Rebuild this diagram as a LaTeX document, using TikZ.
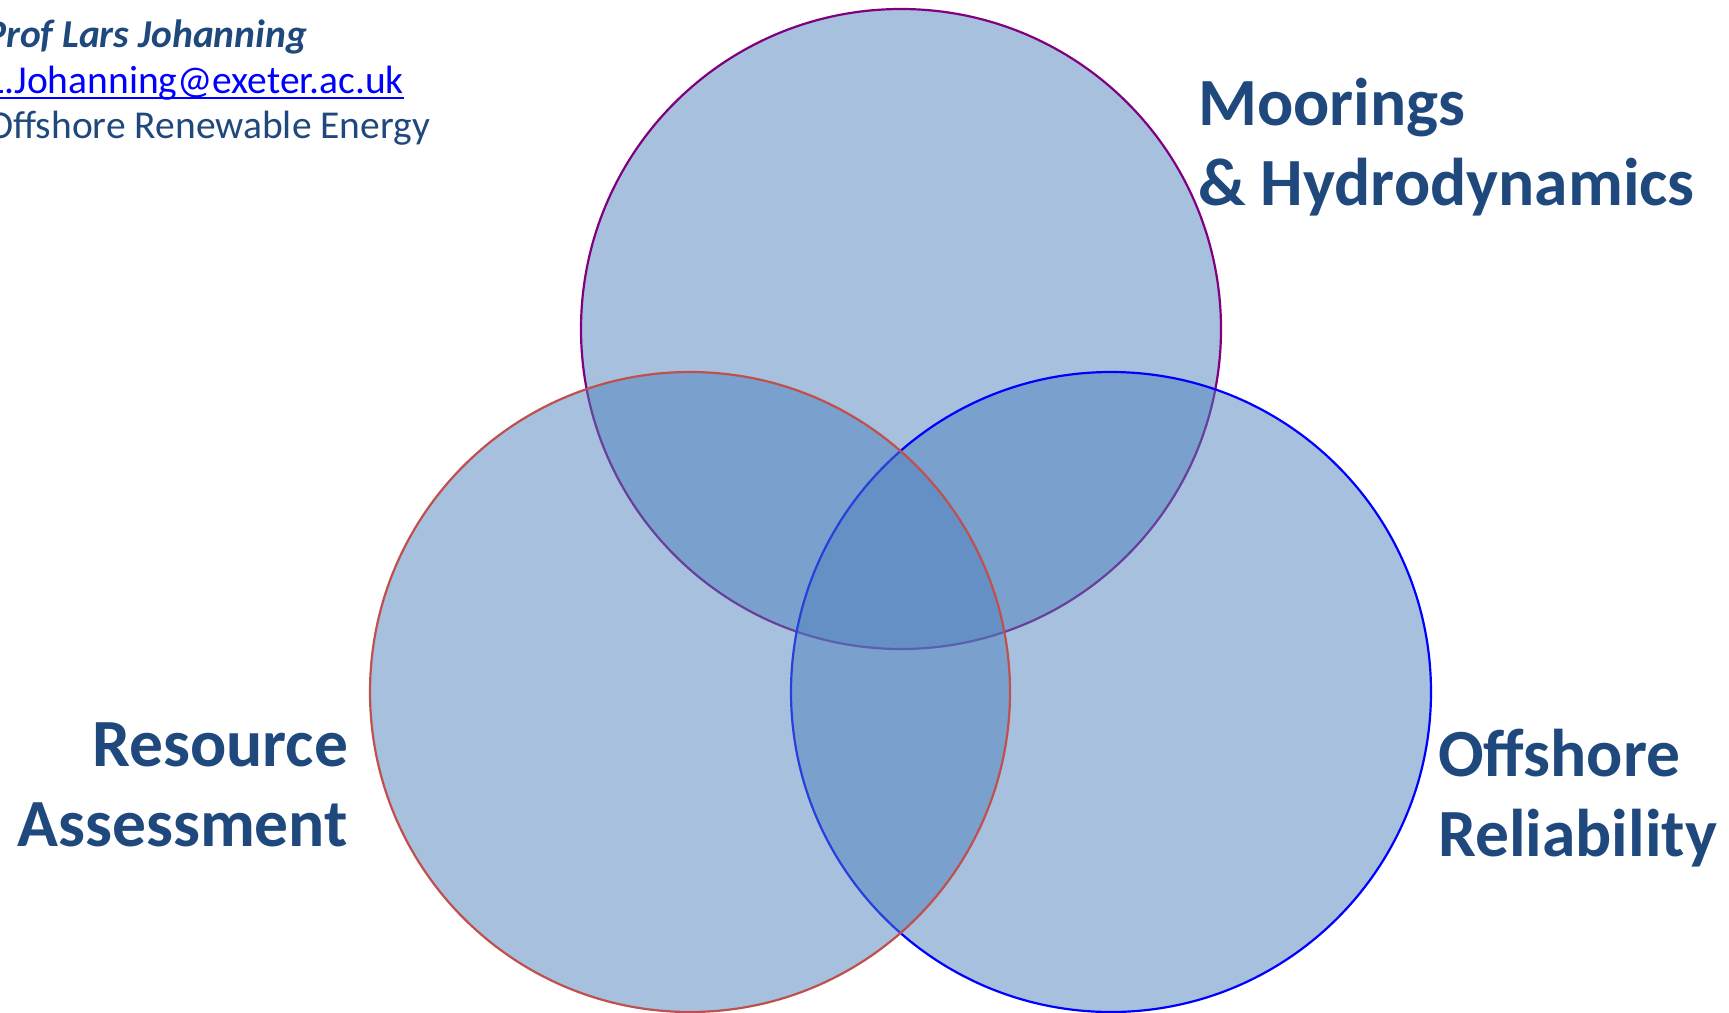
\documentclass[tikz,border=0pt]{standalone}
\usepackage{fontspec}
\setmainfont{Carlito}
\definecolor{darkblue}{HTML}{1F497D}
\definecolor{vfill}{HTML}{4F81BD}
\definecolor{topedge}{HTML}{800080}
\definecolor{leftedge}{HTML}{C0504D}
\definecolor{rightedge}{HTML}{0000FF}
\begin{document}
\begin{tikzpicture}[x=1pt,y=-1pt,
  venn/.style={circle,minimum size=640pt,inner sep=0pt,outer sep=0pt,fill=vfill,fill opacity=0.5,draw opacity=1,line width=2.2pt},
  big/.style={inner sep=0pt,outer sep=0pt,text=darkblue,font=\fontsize{67.5}{80}\selectfont\bfseries},
  small/.style={inner sep=0pt,outer sep=0pt,font=\fontsize{39.5}{46}\selectfont}]
\useasboundingbox (0,0) rectangle (1729,1012);
\clip (0,0) rectangle (1729,1012);
\node[venn,draw=topedge] (top) at (901,329) {};
\node[venn,draw=rightedge] (right) at (1111,692) {};
\node[venn,draw=leftedge] (left) at (690,692) {};
\node[small,text=darkblue,anchor=base east,font=\fontsize{39.5}{46}\selectfont\bfseries\itshape] (name) at (307,47) {Prof Lars Johanning};
\node[small,text=rightedge,anchor=base east] (email) at (404,93) {L.Johanning@exeter.ac.uk};
\draw[rightedge,line width=2pt] ([yshift=-5pt]email.base west) -- ([yshift=-5pt]email.base east);
\node[small,text=darkblue,anchor=base east] (dept) at (430,138) {Offshore Renewable Energy};
\node[big,anchor=base west] (moor1) at (1198,125) {Moorings};
\node[big,anchor=base west] (moor2) at (1198,205) {\& Hydrodynamics};
\node[big,anchor=base east] (res1) at (348,766) {Resource};
\node[big,anchor=base east] (res2) at (348,846) {Assessment};
\node[big,anchor=base west] (off1) at (1438,776) {Offshore};
\node[big,anchor=base west] (off2) at (1438,856) {Reliability};
\end{tikzpicture}
\end{document}
